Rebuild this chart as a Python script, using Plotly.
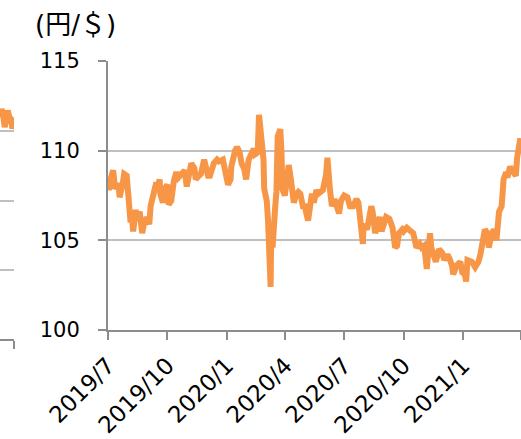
import plotly.graph_objects as go

# ---- main series: USD/JPY (円/＄) ----
dates = [
    "2019-07-01","2019-07-03","2019-07-05","2019-07-09","2019-07-12","2019-07-15","2019-07-17","2019-07-19",
    "2019-07-24","2019-07-26","2019-07-30","2019-08-01","2019-08-02","2019-08-05","2019-08-07","2019-08-09",
    "2019-08-13","2019-08-15","2019-08-19","2019-08-23","2019-08-26","2019-08-28","2019-08-30","2019-09-03",
    "2019-09-05","2019-09-10","2019-09-13","2019-09-17","2019-09-19","2019-09-20","2019-09-24","2019-09-27",
    "2019-10-01","2019-10-03","2019-10-07","2019-10-11","2019-10-15","2019-10-18","2019-10-23","2019-10-28",
    "2019-10-31","2019-11-05","2019-11-07","2019-11-12","2019-11-14","2019-11-19","2019-11-22","2019-11-27",
    "2019-12-03","2019-12-06","2019-12-12","2019-12-17","2019-12-20","2019-12-26","2019-12-31",
    "2020-01-03","2020-01-07","2020-01-08","2020-01-14","2020-01-17","2020-01-21","2020-01-24","2020-01-28",
    "2020-01-31","2020-02-04","2020-02-07","2020-02-12","2020-02-14","2020-02-18","2020-02-20","2020-02-21",
    "2020-02-25","2020-02-27","2020-02-28","2020-03-03","2020-03-05","2020-03-06","2020-03-09","2020-03-10",
    "2020-03-12","2020-03-16","2020-03-18","2020-03-20","2020-03-24","2020-03-26","2020-03-27","2020-03-31",
    "2020-04-03","2020-04-06","2020-04-09","2020-04-14","2020-04-17","2020-04-21","2020-04-24","2020-04-28",
    "2020-05-01","2020-05-06","2020-05-08","2020-05-12","2020-05-15","2020-05-19","2020-05-22","2020-05-27",
    "2020-05-29","2020-06-03","2020-06-05","2020-06-09","2020-06-12","2020-06-16","2020-06-19","2020-06-23",
    "2020-06-26","2020-07-01","2020-07-06","2020-07-10","2020-07-15","2020-07-20","2020-07-23","2020-07-27",
    "2020-07-30","2020-07-31","2020-08-05","2020-08-07","2020-08-12","2020-08-14","2020-08-18","2020-08-21",
    "2020-08-25","2020-08-28","2020-09-01","2020-09-04","2020-09-09","2020-09-14","2020-09-18","2020-09-21",
    "2020-09-24","2020-09-29","2020-10-01","2020-10-06","2020-10-09","2020-10-13","2020-10-16","2020-10-21",
    "2020-10-26","2020-10-29","2020-11-02","2020-11-06","2020-11-09","2020-11-11","2020-11-13","2020-11-18",
    "2020-11-20","2020-11-25","2020-11-30","2020-12-03","2020-12-08","2020-12-11","2020-12-15","2020-12-17",
    "2020-12-22","2020-12-28","2020-12-31",
    "2021-01-04","2021-01-06","2021-01-08","2021-01-12","2021-01-15","2021-01-20","2021-01-25","2021-01-28",
    "2021-02-01","2021-02-04","2021-02-08","2021-02-10","2021-02-15","2021-02-18","2021-02-22","2021-02-25",
    "2021-02-26","2021-03-02","2021-03-04","2021-03-05","2021-03-09","2021-03-11","2021-03-15","2021-03-18",
    "2021-03-22","2021-03-24","2021-03-26","2021-03-30","2021-03-31",
]
rates = [
    108.4,107.8,108.4,108.9,107.9,108.0,108.2,107.4,
    108.2,108.7,108.6,107.3,106.6,106.0,106.3,105.5,
    106.7,106.1,106.6,105.4,106.0,106.0,106.3,105.9,
    106.9,107.5,108.1,108.1,108.4,107.6,107.1,107.9,
    108.1,107.0,107.2,108.3,108.8,108.5,108.7,108.9,
    108.0,109.2,109.3,109.0,108.4,108.6,108.7,109.5,
    108.6,108.6,109.3,109.5,109.4,109.5,108.6,
    108.1,108.4,109.1,110.0,110.2,109.9,109.3,109.0,
    108.4,109.5,109.8,110.1,109.8,109.9,112.0,111.6,
    110.2,109.5,107.9,107.2,106.1,105.4,102.4,105.5,
    104.6,106.8,107.7,110.8,111.2,109.8,107.9,107.5,
    108.4,109.2,108.5,107.1,107.5,107.7,107.6,106.9,
    106.9,106.1,106.6,107.6,107.1,107.8,107.6,107.7,
    107.8,108.7,109.6,107.8,106.9,107.3,106.9,106.5,
    107.2,107.5,107.4,106.9,106.9,107.3,107.1,105.4,
    104.8,105.9,105.6,105.9,106.9,106.6,105.4,105.8,
    106.3,105.5,106.0,106.3,106.2,105.7,104.6,104.7,
    105.4,105.6,105.5,105.7,105.6,105.5,105.4,104.6,
    104.8,104.6,104.7,103.4,105.3,105.4,104.6,103.8,
    103.8,104.5,104.3,103.9,104.2,104.0,103.6,103.1,
    103.6,103.8,103.2,
    103.1,102.7,103.9,103.8,103.8,103.5,103.8,104.2,
    104.9,105.6,105.4,104.6,105.4,105.6,105.0,106.2,
    106.6,106.9,108.0,108.4,108.8,108.5,109.1,108.9,
    108.8,108.6,109.6,110.3,110.7,
]

tick_dates = ["2019-07-01","2019-10-01","2020-01-01","2020-04-01","2020-07-01",
              "2020-10-01","2021-01-01","2021-04-01"]
tick_labels = ["2019/7","2019/10","2020/1","2020/4","2020/7","2020/10","2021/1",""]

# ---- neighbouring (cropped) chart on the left ----
left_x = [0,1,2,3,4,5,6,7,8,9]
left_vals = [111.0,111.6,111.2,110.3,110.8,111.5,111.0,110.9,110.2,110.6]

W, H = 521, 439
ORANGE = "#F79646"
GRID = "#C0C0C0"
AXIS = "#8C8C8C"
FONT = "DejaVu Sans, Noto Sans CJK JP, sans-serif"

fig = go.Figure()
fig.add_trace(go.Scatter(x=dates, y=rates, mode="lines",
                         line=dict(color=ORANGE, width=6), hoverinfo="skip",
                         xaxis="x", yaxis="y"))
fig.add_trace(go.Scatter(x=left_x, y=left_vals, mode="lines",
                         line=dict(color=ORANGE, width=6), hoverinfo="skip",
                         xaxis="x2", yaxis="y2"))

fig.update_layout(
    width=W, height=H,
    margin=dict(l=0, r=0, t=0, b=0, autoexpand=False),
    paper_bgcolor="white", plot_bgcolor="rgba(0,0,0,0)",
    showlegend=False,
    font=dict(family=FONT, size=21, color="black"),
    xaxis=dict(
        domain=[108 / W, 1.0], type="date",
        range=["2019-07-01", "2021-04-01"],
        tickmode="array", tickvals=tick_dates, ticktext=tick_labels,
        tickangle=-45, ticks="outside", ticklen=8, tickwidth=2, tickcolor=AXIS,
        tickfont=dict(size=23),
        showline=True, linecolor=AXIS, linewidth=2,
        showgrid=False, zeroline=False, anchor="y", automargin=False,
        ticklabelstandoff=3,
    ),
    yaxis=dict(
        domain=[1 - 330 / H, 1 - 61 / H],
        range=[100, 115], tickmode="array", tickvals=[100, 105, 110, 115],
        ticks="outside", ticklen=8, tickwidth=2, tickcolor=AXIS,
        showline=True, linecolor=AXIS, linewidth=2,
        showgrid=True, gridcolor=GRID, gridwidth=2, zeroline=False,
        anchor="x", ticklabelstandoff=14, automargin=False,
    ),
    xaxis2=dict(
        domain=[0, 14 / W], range=[0, 9],
        tickmode="array", tickvals=[9], ticktext=[""],
        ticks="outside", ticklen=8, tickwidth=2, tickcolor=AXIS,
        showline=True, linecolor=AXIS, linewidth=2,
        showgrid=False, zeroline=False, anchor="y2", automargin=False,
    ),
    yaxis2=dict(
        domain=[1 - 339 / H, 1 - 62 / H], range=[95, 115],
        tickmode="array", tickvals=[95, 100, 105, 110, 115],
        showticklabels=False, ticks="",
        showline=False, showgrid=True, gridcolor=GRID, gridwidth=2,
        zeroline=False, anchor="x2", automargin=False,
    ),
    annotations=[dict(
        text="(円/＄)", xref="paper", yref="paper",
        x=75 / W, y=1 - 25 / H, xanchor="center", yanchor="middle",
        showarrow=False, font=dict(family=FONT, size=26, color="black"),
    )],
)

fig.write_html("out.html", config={"displayModeBar": False, "staticPlot": True},
               post_script="document.body.style.margin='0px';document.body.style.overflow='hidden';")
